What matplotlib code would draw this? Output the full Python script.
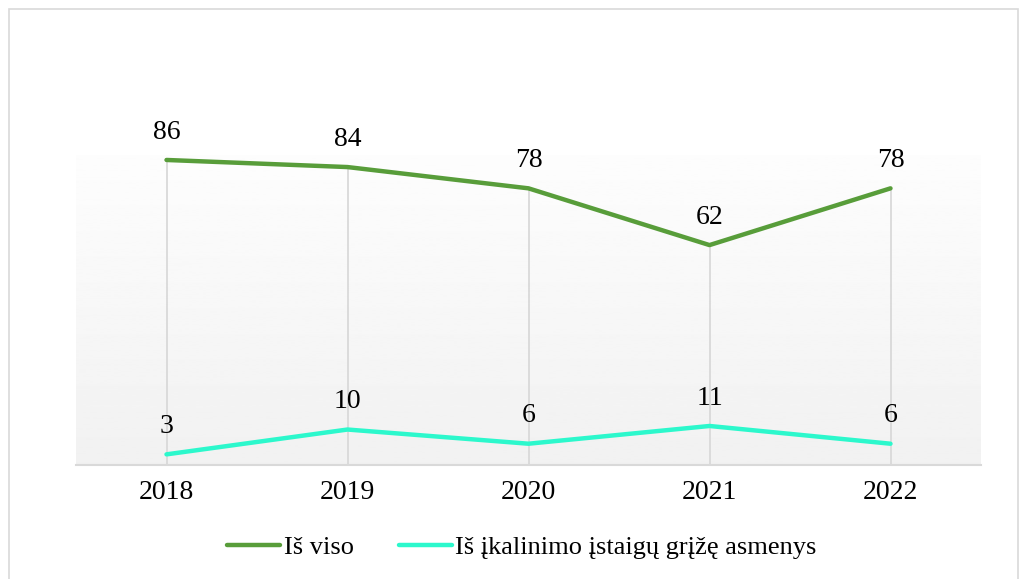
import numpy as np
import matplotlib.pyplot as plt
from matplotlib.patches import Rectangle

years = ['2018', '2019', '2020', '2021', '2022']
total = [86, 84, 78, 62, 78]
returned = [3, 10, 6, 11, 6]
labels = ['Iš viso', 'Iš įkalinimo įstaigų grįžę asmenys']

plt.rcParams['font.family'] = ['Liberation Serif', 'DejaVu Serif']
FS = 20

fig = plt.figure(figsize=(10.25, 5.79), dpi=100)
# outer chart border
fig.patches.append(Rectangle((9 / 1025, -0.01), 1009 / 1025, 1 - 9 / 579 + 0.01,
                             transform=fig.transFigure, fill=False,
                             edgecolor='#d9d9d9', linewidth=1.2))
ax = fig.add_axes([76 / 1025, 1 - 465 / 579, 905 / 1025, 310 / 579])

x = np.arange(len(years))
ymax = 87.4
ax.set_xlim(-0.5, len(years) - 0.5)
ax.set_ylim(0, ymax)

# gradient background: near white at top, light grey at bottom
grad = np.linspace(0.992, 0.945, 256).reshape(-1, 1)
ax.imshow(grad, cmap='gray', vmin=0, vmax=1, aspect='auto',
          extent=(-0.5, len(years) - 0.5, 0, ymax), origin='upper', zorder=0)

# drop lines from the highest point to the axis
tops = [max(a, b) for a, b in zip(total, returned)]
ax.vlines(x, 0, tops, color='#d9d9d9', linewidth=1.3, zorder=1)

ax.plot(x, total, color='#589D3A', linewidth=3.2, solid_capstyle='round',
        label=labels[0], zorder=3)
ax.plot(x, returned, color='#2CF8CC', linewidth=3.2, solid_capstyle='round',
        label=labels[1], zorder=3)

for xi, v in zip(x, total):
    ax.annotate(str(v), (xi, v), xytext=(0, 11), textcoords='offset points',
                ha='center', va='bottom', fontsize=FS, annotation_clip=False)
for xi, v in zip(x, returned):
    ax.annotate(str(v), (xi, v), xytext=(0, 11), textcoords='offset points',
                ha='center', va='bottom', fontsize=FS)

for s in ['top', 'left', 'right']:
    ax.spines[s].set_visible(False)
ax.spines['bottom'].set_color('#d9d9d9')
ax.spines['bottom'].set_linewidth(1.5)
ax.spines['bottom'].set_zorder(2)

ax.set_xticks(x)
ax.set_xticklabels(years, fontsize=FS)
ax.tick_params(axis='x', length=0, pad=11)
ax.set_yticks([])

fig.legend(loc='center', bbox_to_anchor=(522 / 1025, 1 - 547 / 579), ncol=2,
           frameon=False, fontsize=19, handlelength=2.0, handletextpad=0.15,
           columnspacing=1.7)

fig.savefig('out.png', dpi=100)
